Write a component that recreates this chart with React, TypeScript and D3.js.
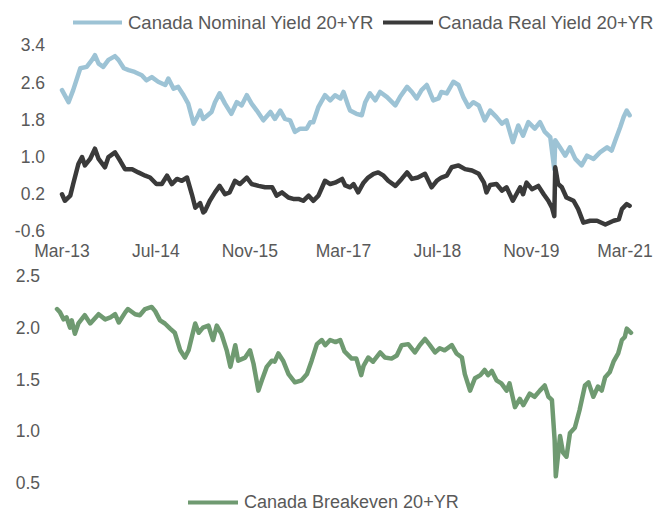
import React from "react";
import * as d3 from "d3";

const xTickLabels = ["Mar-13", "Jul-14", "Nov-15", "Mar-17", "Jul-18", "Nov-19", "Mar-21"];
const xTickDates = ["2013-03-01", "2014-07-01", "2015-11-01", "2017-03-01", "2018-07-01", "2019-11-01", "2021-03-01"];
const topTicks = [3.4, 2.6, 1.8, 1.0, 0.2, -0.6];
const bottomTicks = [2.5, 2.0, 1.5, 1.0, 0.5];

const nominal: [string, number][] = [
  ["2013-03-01", 2.43], ["2013-04-04", 2.17], ["2013-04-28", 2.43], ["2013-06-04", 2.9], ["2013-07-07", 2.93],
  ["2013-08-04", 3.08], ["2013-08-19", 3.18], ["2013-09-07", 3.0], ["2013-10-01", 2.93], ["2013-10-28", 3.08],
  ["2013-12-01", 3.16], ["2013-12-19", 3.08], ["2014-01-16", 2.9], ["2014-02-10", 2.86], ["2014-03-13", 2.82],
  ["2014-04-19", 2.75], ["2014-05-13", 2.64], ["2014-06-10", 2.71], ["2014-07-13", 2.61], ["2014-08-19", 2.54],
  ["2014-09-04", 2.68], ["2014-10-01", 2.46], ["2014-10-25", 2.5], ["2014-11-22", 2.32], ["2014-12-16", 2.14],
  ["2015-01-13", 1.71], ["2015-02-01", 1.85], ["2015-02-16", 1.99], ["2015-03-04", 1.81], ["2015-04-16", 1.96],
  ["2015-05-04", 2.17], ["2015-05-28", 2.36], ["2015-06-25", 2.14], ["2015-07-28", 1.92], ["2015-08-25", 2.17],
  ["2015-09-19", 2.1], ["2015-10-16", 2.32], ["2015-11-10", 2.14], ["2015-12-07", 1.99], ["2016-01-10", 1.78],
  ["2016-02-16", 1.96], ["2016-03-10", 1.81], ["2016-04-07", 1.99], ["2016-05-01", 1.81], ["2016-05-28", 1.78],
  ["2016-06-22", 1.53], ["2016-07-19", 1.6], ["2016-08-22", 1.6], ["2016-09-10", 1.74], ["2016-09-25", 1.74],
  ["2016-10-22", 2.07], ["2016-11-25", 2.32], ["2016-12-22", 2.21], ["2017-01-16", 2.32], ["2017-02-13", 2.25],
  ["2017-03-01", 2.39], ["2017-03-25", 2.1], ["2017-04-04", 1.99], ["2017-05-07", 1.92], ["2017-06-04", 1.89],
  ["2017-06-22", 2.17], ["2017-07-16", 2.36], ["2017-08-13", 2.21], ["2017-09-07", 2.39], ["2017-10-13", 2.28],
  ["2017-11-25", 2.1], ["2017-12-19", 2.28], ["2018-01-25", 2.5], ["2018-02-19", 2.39], ["2018-03-16", 2.25],
  ["2018-04-10", 2.43], ["2018-05-07", 2.54], ["2018-06-10", 2.21], ["2018-07-07", 2.25], ["2018-07-22", 2.39],
  ["2018-08-19", 2.36], ["2018-09-22", 2.61], ["2018-10-19", 2.54], ["2018-11-13", 2.28], ["2018-12-10", 2.07],
  ["2019-01-04", 2.17], ["2019-02-01", 2.1], ["2019-03-04", 1.78], ["2019-04-01", 1.99], ["2019-05-04", 1.85],
  ["2019-06-01", 1.71], ["2019-06-25", 1.78], ["2019-07-28", 1.31], ["2019-08-25", 1.67], ["2019-09-19", 1.45],
  ["2019-10-16", 1.74], ["2019-11-19", 1.6], ["2019-12-16", 1.74], ["2020-01-10", 1.53], ["2020-02-07", 1.42],
  ["2020-02-28", 0.73], ["2020-03-04", 1.35], ["2020-03-28", 1.2], ["2020-04-25", 1.02], ["2020-05-19", 1.2],
  ["2020-06-16", 0.95], ["2020-07-19", 0.81], ["2020-08-16", 1.02], ["2020-09-19", 0.95], ["2020-10-22", 1.09],
  ["2020-11-28", 1.2], ["2020-12-22", 1.13], ["2021-01-10", 1.35], ["2021-02-04", 1.63], ["2021-02-22", 1.85],
  ["2021-03-10", 1.99], ["2021-03-25", 1.89],
];

const real: [string, number][] = [
  ["2013-03-01", 0.19], ["2013-03-16", 0.05], ["2013-04-13", 0.16], ["2013-04-28", 0.41], ["2013-05-25", 0.84],
  ["2013-06-13", 0.99], ["2013-06-28", 0.81], ["2013-07-25", 0.95], ["2013-08-19", 1.17], ["2013-09-07", 0.95],
  ["2013-10-10", 0.77], ["2013-10-28", 0.99], ["2013-12-01", 1.09], ["2013-12-28", 0.91], ["2014-01-22", 0.73],
  ["2014-02-28", 0.73], ["2014-04-01", 0.66], ["2014-05-07", 0.59], ["2014-06-01", 0.55], ["2014-07-04", 0.41],
  ["2014-08-01", 0.41], ["2014-08-28", 0.59], ["2014-09-22", 0.41], ["2014-10-19", 0.52], ["2014-11-13", 0.48],
  ["2014-12-10", 0.55], ["2015-01-04", 0.19], ["2015-01-22", -0.1], ["2015-02-16", 0.0], ["2015-03-04", -0.2],
  ["2015-03-13", -0.17], ["2015-04-07", 0.05], ["2015-05-04", 0.23], ["2015-05-28", 0.37], ["2015-06-25", 0.19],
  ["2015-07-19", 0.23], ["2015-08-16", 0.48], ["2015-09-10", 0.41], ["2015-10-16", 0.55], ["2015-11-10", 0.41],
  ["2015-12-16", 0.37], ["2016-01-19", 0.34], ["2016-02-25", 0.34], ["2016-03-19", 0.16], ["2016-04-16", 0.23],
  ["2016-05-19", 0.12], ["2016-06-13", 0.09], ["2016-07-10", 0.09], ["2016-08-04", 0.05], ["2016-09-01", 0.16],
  ["2016-09-25", 0.05], ["2016-10-22", 0.16], ["2016-11-25", 0.48], ["2016-12-22", 0.41], ["2017-01-16", 0.44],
  ["2017-02-22", 0.52], ["2017-03-10", 0.38], ["2017-04-04", 0.34], ["2017-04-22", 0.41], ["2017-05-16", 0.23],
  ["2017-06-13", 0.44], ["2017-07-07", 0.55], ["2017-08-04", 0.63], ["2017-08-28", 0.66], ["2017-09-25", 0.59],
  ["2017-10-19", 0.48], ["2017-11-25", 0.37], ["2017-12-28", 0.52], ["2018-01-25", 0.66], ["2018-02-19", 0.52],
  ["2018-03-22", 0.55], ["2018-04-28", 0.63], ["2018-06-01", 0.34], ["2018-06-28", 0.48], ["2018-07-22", 0.55],
  ["2018-08-19", 0.59], ["2018-09-13", 0.77], ["2018-10-19", 0.81], ["2018-11-22", 0.73], ["2018-12-28", 0.7],
  ["2019-02-01", 0.63], ["2019-02-28", 0.44], ["2019-03-13", 0.23], ["2019-04-01", 0.39], ["2019-05-04", 0.41],
  ["2019-06-01", 0.27], ["2019-06-25", 0.34], ["2019-07-28", 0.05], ["2019-09-04", 0.34], ["2019-09-19", 0.19],
  ["2019-10-07", 0.44], ["2019-11-04", 0.3], ["2019-12-07", 0.37], ["2020-01-04", 0.19], ["2020-01-28", 0.05],
  ["2020-02-16", -0.1], ["2020-02-28", -0.28], ["2020-03-04", 0.77], ["2020-03-19", 0.41], ["2020-04-07", 0.34],
  ["2020-05-01", 0.12], ["2020-06-07", 0.05], ["2020-07-01", -0.13], ["2020-07-28", -0.42], ["2020-09-01", -0.38],
  ["2020-10-07", -0.38], ["2020-11-19", -0.46], ["2021-01-01", -0.38], ["2021-01-28", -0.35], ["2021-02-13", -0.13],
  ["2021-03-10", -0.02], ["2021-03-25", -0.06],
];

const breakeven: [string, number][] = [
  ["2013-03-01", 2.18], ["2013-03-16", 2.15], ["2013-04-04", 2.08], ["2013-04-19", 2.1], ["2013-05-07", 2.0],
  ["2013-05-16", 2.07], ["2013-06-01", 1.94], ["2013-06-19", 2.04], ["2013-07-22", 2.12], ["2013-08-19", 2.04],
  ["2013-10-01", 2.13], ["2013-11-04", 2.08], ["2013-12-01", 2.1], ["2013-12-25", 2.13], ["2014-01-13", 2.05],
  ["2014-02-16", 2.15], ["2014-03-01", 2.18], ["2014-04-07", 2.13], ["2014-05-01", 2.12], ["2014-05-28", 2.18],
  ["2014-07-01", 2.2], ["2014-07-19", 2.16], ["2014-08-13", 2.07], ["2014-09-07", 2.04], ["2014-10-04", 1.99],
  ["2014-10-28", 1.95], ["2014-11-25", 1.78], ["2014-12-19", 1.71], ["2015-01-07", 1.78], ["2015-01-25", 1.92],
  ["2015-02-10", 2.04], ["2015-02-28", 1.95], ["2015-03-22", 2.0], ["2015-04-19", 2.02], ["2015-05-13", 1.88],
  ["2015-06-01", 2.02], ["2015-06-25", 1.94], ["2015-07-22", 1.78], ["2015-08-10", 1.62], ["2015-09-04", 1.83],
  ["2015-09-19", 1.68], ["2015-10-25", 1.71], ["2015-11-19", 1.78], ["2015-12-07", 1.65], ["2016-01-01", 1.39],
  ["2016-01-19", 1.49], ["2016-02-13", 1.62], ["2016-03-10", 1.68], ["2016-03-25", 1.67], ["2016-04-13", 1.75],
  ["2016-05-07", 1.68], ["2016-06-04", 1.55], ["2016-07-07", 1.47], ["2016-08-10", 1.49], ["2016-09-07", 1.55],
  ["2016-10-01", 1.68], ["2016-10-28", 1.84], ["2016-11-22", 1.88], ["2016-12-10", 1.83], ["2017-01-04", 1.88],
  ["2017-02-01", 1.86], ["2017-02-25", 1.88], ["2017-03-19", 1.77], ["2017-04-25", 1.7], ["2017-05-19", 1.7],
  ["2017-06-13", 1.54], ["2017-06-25", 1.63], ["2017-07-19", 1.71], ["2017-08-13", 1.67], ["2017-09-19", 1.76],
  ["2017-10-13", 1.71], ["2017-11-16", 1.7], ["2017-12-13", 1.73], ["2018-01-07", 1.83], ["2018-02-10", 1.84],
  ["2018-03-16", 1.76], ["2018-04-10", 1.83], ["2018-05-07", 1.89], ["2018-06-01", 1.83], ["2018-06-28", 1.76],
  ["2018-07-22", 1.8], ["2018-08-16", 1.78], ["2018-09-22", 1.83], ["2018-10-16", 1.75], ["2018-11-13", 1.71],
  ["2018-11-28", 1.55], ["2018-12-25", 1.39], ["2019-01-19", 1.51], ["2019-02-16", 1.54], ["2019-03-10", 1.59],
  ["2019-03-28", 1.54], ["2019-04-16", 1.58], ["2019-05-10", 1.49], ["2019-06-04", 1.46], ["2019-07-01", 1.39],
  ["2019-07-16", 1.46], ["2019-08-13", 1.23], ["2019-09-07", 1.31], ["2019-09-25", 1.25], ["2019-10-28", 1.36],
  ["2019-11-22", 1.33], ["2019-12-19", 1.39], ["2020-01-13", 1.44], ["2020-02-01", 1.33], ["2020-02-19", 1.3],
  ["2020-03-04", 0.91], ["2020-03-10", 0.56], ["2020-04-01", 0.95], ["2020-04-16", 0.79], ["2020-05-04", 0.75],
  ["2020-05-22", 0.98], ["2020-06-16", 1.03], ["2020-07-10", 1.2], ["2020-08-07", 1.44], ["2020-08-25", 1.47],
  ["2020-09-19", 1.33], ["2020-10-13", 1.43], ["2020-11-01", 1.39], ["2020-11-19", 1.52], ["2020-12-13", 1.57],
  ["2021-01-01", 1.67], ["2021-01-25", 1.75], ["2021-02-13", 1.88], ["2021-02-28", 1.91], ["2021-03-10", 1.99],
  ["2021-04-01", 1.95],
];

const parse = d3.timeParse("%Y-%m-%d");
const FONT = "Arial, 'Liberation Sans', sans-serif";
const TEXT = "#595959";
const C_NOM = "#9DC3D5";
const C_REAL = "#3A3A3A";
const C_BE = "#6F9A71";

export default function App() {
  const d0 = parse("2013-03-01")!;
  const d1 = parse("2021-03-01")!;
  const xTop = d3.scaleTime().domain([d0, d1]).range([62, 625]);
  const xBot = d3.scaleTime().domain([d0, d1]).range([57, 625]);
  const yTop = d3.scaleLinear().domain([-0.6, 3.4]).range([231, 45]);
  const yBot = d3.scaleLinear().domain([0.5, 2.5]).range([482.5, 276]);

  const lineTop = d3
    .line<[string, number]>()
    .x((d) => xTop(parse(d[0])!))
    .y((d) => yTop(d[1]));
  const lineBot = d3
    .line<[string, number]>()
    .x((d) => xBot(parse(d[0])!))
    .y((d) => yBot(d[1]));

  const lineStyle = { fill: "none", strokeWidth: 4.5, strokeLinejoin: "round" as const, strokeLinecap: "round" as const };

  return (
    <svg
      width={655}
      height={512}
      style={{ position: "absolute", left: 0, top: 0, background: "#fff" }}
      fontFamily={FONT}
    >
      {/* top legend */}
      <line x1={73} x2={122} y1={22.5} y2={22.5} stroke={C_NOM} strokeWidth={4} />
      <text x={128} y={29} fontSize={18.5} fill={TEXT}>Canada Nominal Yield 20+YR</text>
      <line x1={383} x2={433} y1={22.5} y2={22.5} stroke={C_REAL} strokeWidth={4} />
      <text x={438} y={29} fontSize={18.5} fill={TEXT}>Canada Real Yield 20+YR</text>

      {/* top y ticks */}
      {topTicks.map((t) => (
        <text key={"t" + t} x={45} y={yTop(t)} dy="0.36em" textAnchor="end" fontSize={17.5} fill={TEXT}>
          {t.toFixed(1)}
        </text>
      ))}
      {/* x tick labels */}
      {xTickLabels.map((l, i) => (
        <text key={l} x={xTop(parse(xTickDates[i])!)} y={257} textAnchor="middle" fontSize={17.5} fill={TEXT}>
          {l}
        </text>
      ))}

      <path d={lineTop(nominal)!} stroke={C_NOM} {...lineStyle} />
      <path d={lineTop(real)!} stroke={C_REAL} {...lineStyle} />

      {/* bottom y ticks */}
      {bottomTicks.map((t) => (
        <text key={"b" + t} x={40} y={yBot(t)} dy="0.36em" textAnchor="end" fontSize={17.5} fill={TEXT}>
          {t.toFixed(1)}
        </text>
      ))}
      <path d={lineBot(breakeven)!} stroke={C_BE} {...lineStyle} />

      {/* bottom legend */}
      <line x1={188} x2={238} y1={502.5} y2={502.5} stroke={C_BE} strokeWidth={4} />
      <text x={244} y={508} fontSize={18} fill={TEXT}>Canada Breakeven 20+YR</text>
    </svg>
  );
}
